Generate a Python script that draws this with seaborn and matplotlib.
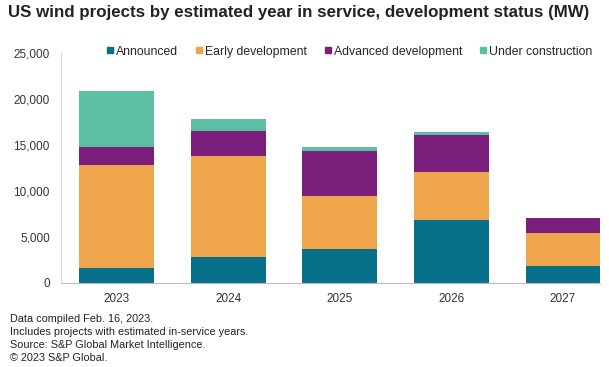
import numpy as np
import seaborn as sns
import matplotlib.pyplot as plt
from matplotlib.lines import Line2D

years = ['2023', '2024', '2025', '2026', '2027']
series = ['Announced', 'Early development', 'Advanced development', 'Under construction']
announced = [1600, 2830, 3730, 6810, 1850]
early = [11200, 10940, 5760, 5220, 3620]
advanced = [1950, 2780, 4860, 4060, 1560]
under_construction = [6100, 1240, 470, 360, 0]
colors = ['#07708a', '#efa54b', '#7a1f7c', '#5cbea3']

sns.set_style('white')
plt.rcParams['font.family'] = ['Liberation Sans', 'DejaVu Sans']

fig = plt.figure(figsize=(6.09, 3.67), dpi=100)
ax = fig.add_axes([0.100, 0.229, 0.885, 0.627])

layers = np.cumsum([announced, early, advanced, under_construction], axis=0)
# draw from the top layer down so each lower stack covers the one above
for cum, c in zip(layers[::-1], colors[::-1]):
    sns.barplot(x=years, y=cum, color=c, width=0.67, saturation=1, linewidth=0, ax=ax)

ax.set_ylim(0, 25000)
ax.set_xlim(-0.5, 4.33)
ax.set_yticks(range(0, 25001, 5000))
ax.set_yticklabels([f'{v:,}' for v in range(0, 25001, 5000)])
ax.tick_params(axis='both', length=0, labelsize=8.5, colors='#333333')
ax.tick_params(axis='y', pad=8)
ax.tick_params(axis='x', pad=7)
ax.set_xlabel('')
ax.set_ylabel('')
for s in ['top', 'right']:
    ax.spines[s].set_visible(False)
ax.spines['left'].set_color('#d9d9d9')
ax.spines['bottom'].set_color('#bfbfbf')

handles = [Line2D([], [], marker='s', color=c, linestyle='none', markersize=5) for c in colors]
ax.legend(handles, series, loc='center', bbox_to_anchor=(0.534, 1.005), ncol=4,
          frameon=False, fontsize=8.8, handletextpad=0.1, columnspacing=1.3, handlelength=0.8)

fig.text(0.013, 0.965, 'US wind projects by estimated year in service, development status (MW)',
         fontsize=12.2, fontweight='bold', color='#222222', va='center')

notes = ['Data compiled Feb. 16, 2023.',
         'Includes projects with estimated in-service years.',
         'Source: S&P Global Market Intelligence.',
         '\u00a9 2023 S&P Global.']
for i, n in enumerate(notes):
    fig.text(0.016, 1 - (319 + i * 13) / 367, n, fontsize=7.8, color='#222222', va='center')

fig.savefig('out.png', dpi=100)
